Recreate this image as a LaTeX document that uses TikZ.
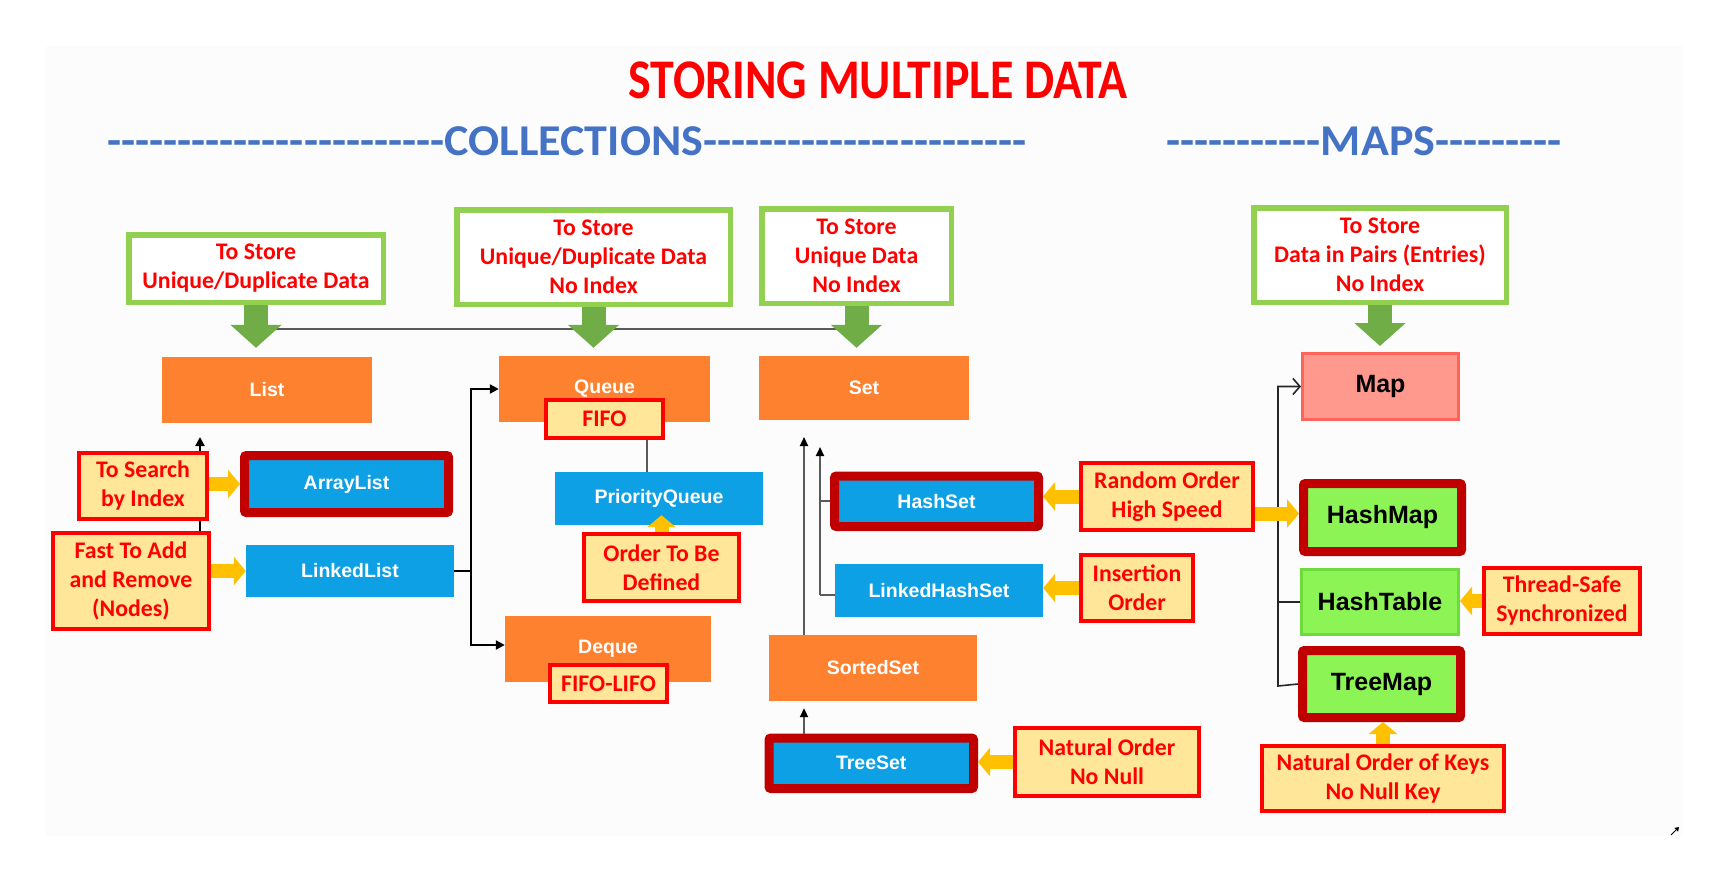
\documentclass[tikz,border=0pt]{standalone}
\usepackage{fontspec}
\setmainfont{Carlito}
\newfontfamily\hdrfont{Carlito}[Ligatures=TeXOff]
\newfontfamily\arialfont{Liberation Sans}
\usetikzlibrary{arrows.meta}

\definecolor{titlered}{RGB}{255,0,0}
\definecolor{hdrblue}{RGB}{68,114,196}
\definecolor{boxgreen}{RGB}{146,208,80}
\definecolor{arrgreen}{RGB}{112,173,71}
\definecolor{ifcorange}{RGB}{253,129,47}
\definecolor{clsblue}{RGB}{14,160,228}
\definecolor{darkred}{RGB}{192,0,0}
\definecolor{notefill}{RGB}{255,230,153}
\definecolor{amber}{RGB}{255,192,0}
\definecolor{mappink}{RGB}{255,153,142}
\definecolor{mapline}{RGB}{255,100,90}
\definecolor{mapgreen}{RGB}{140,245,85}
\definecolor{mapgreenline}{RGB}{110,218,60}
\definecolor{linegray}{RGB}{90,90,90}
\definecolor{panel}{RGB}{252,252,253}

\tikzset{
  title/.style={text=titlered, font=\bfseries\fontsize{56}{62}\selectfont, xscale=.855},
  header/.style={text=hdrblue, font=\hdrfont\bfseries\fontsize{44}{50}\selectfont, xscale=1.045},
  purpose/.style={draw=boxgreen, line width=5.5pt, fill=white, align=center, text=titlered,
    font=\bfseries\fontsize{23.8}{29}\selectfont, inner sep=0pt},
  iface/.style={fill=ifcorange, text=white, font=\arialfont\bfseries\fontsize{19.5}{23}\selectfont, inner sep=0pt},
  impl/.style={fill=clsblue, text=white, font=\arialfont\bfseries\fontsize{19.5}{23}\selectfont, inner sep=0pt},
  picked/.style={draw=darkred, line width=9pt, rounded corners=2pt},
  note/.style={draw=red, fill=notefill, line width=4pt, text=red, align=center,
    font=\bfseries\fontsize{23.8}{29}\selectfont, inner sep=0pt},
  mapnode/.style={font=\arialfont\bfseries\fontsize{25}{28}\selectfont, inner sep=0pt},
  feed/.style={arrgreen, line width=24pt, -{Triangle[width=50pt,length=23pt]}},
  hint/.style={amber, line width=14pt, -{Triangle[width=28pt,length=12pt]}},
  link/.style={line width=2.2pt, -{Triangle[length=9pt,width=9pt]}},
  setlink/.style={linegray, line width=2pt, -{Triangle[length=9pt,width=8pt,color=black]}},
  maplink/.style={black!85, line width=1.6pt}
}

\begin{document}
\begin{tikzpicture}[x=1pt,y=-1pt]
  \useasboundingbox (0,0) rectangle (1735,878);
  \fill[panel] (46,46) rectangle (1683,836);

  \node[title] (title) at (878,80.5) {STORING MULTIPLE DATA};
  \node[header] (colls) at (567,141) {------------------------COLLECTIONS-----------------------};
  \node[header] (maps) at (1364,141) {-----------MAPS---------};

  \foreach \n/\x/\y/\w/\h/\t in {
      g1/256/268.5/254.5/67.5/{To Store\\Unique/Duplicate Data},
      g2/593.5/257/273.5/94.5/{To Store\\Unique/Duplicate Data\\No Index},
      g3/856.5/256/189.5/94.5/{To Store\\Unique Data\\No Index},
      g4/1380/255/252.5/94.5/{To Store\\Data in Pairs (Entries)\\No Index}}
    \node[purpose, minimum width=\w pt, minimum height=\h pt] (\n) at (\x,\y) {\t};

  \foreach \n/\x/\y/\w/\h/\t in {
      list/267/390/210/66/List, queue/604.5/389/211/66/Queue, set/864/388/210/64/Set,
      deque/608/649/206/66/Deque, sortedset/873/668/208/66/SortedSet}
    \node[iface, minimum width=\w pt, minimum height=\h pt] (\n) at (\x,\y) {\t};

  \foreach \n/\x/\y/\w/\h/\t in {
      linkedlist/350/571/208/52/LinkedList, pq/659/498.5/208/53/PriorityQueue,
      lhs/939/590.5/208/53/LinkedHashSet}
    \node[impl, minimum width=\w pt, minimum height=\h pt] (\n) at (\x,\y) {\t};
  \foreach \n/\x/\y/\w/\h/\t in {
      arraylist/346.5/484/204/57/ArrayList, hashset/936.5/501.25/204/50.5/HashSet,
      treeset/871.25/763.25/204.5/50.5/TreeSet}
    \node[impl, picked, minimum width=\w pt, minimum height=\h pt] (\n) at (\x,\y) {\t};

  \node[mapnode, fill=mappink, draw=mapline, line width=3pt, minimum width=156pt, minimum height=66pt] (map) at (1380.5,386.5) {Map};
  \node[mapnode, fill=mapgreen, picked, minimum width=158pt, minimum height=68pt] (hashmap) at (1382.5,517.5) {HashMap};
  \node[mapnode, fill=mapgreen, draw=mapgreenline, line width=3pt, minimum width=157pt, minimum height=65pt] (hashtable) at (1380,602) {HashTable};
  \node[mapnode, fill=mapgreen, picked, minimum width=158pt, minimum height=67pt] (treemap) at (1381.5,684) {TreeMap};

  % connectors
  \coordinate (bus) at (0,329);
  \draw[linegray, line width=2pt] (g1.south |- bus) -- (g3.south |- bus);
  \draw[feed, shorten >=9pt] (g1.south) -- (g1.south |- list.north);
  \draw[feed, shorten >=8pt] (g2.south) -- (g2.south |- queue.north);
  \draw[feed, shorten >=8pt] (g3.south) -- (g3.south |- set.north);
  \draw[feed, shorten >=6pt] (g4.south) -- (g4.south |- map.north);

  \coordinate (lstub) at (200,531);
  \coordinate (ltip) at (200,437);
  \draw[link] (lstub) -- (ltip);
  \coordinate (qsplit) at (471,571);
  \draw[line width=2.2pt] (linkedlist.east) -- (qsplit);
  \draw[link] (qsplit) |- (queue.west);
  \draw[link] (qsplit) |- ([yshift=4pt]deque.west);

  \coordinate (sstip) at (804,437);
  \coordinate (hstip) at (820,447);
  \draw[setlink] (sortedset.north -| sstip) -- (sstip);
  \draw[setlink] ([yshift=-4.5pt]lhs.west -| hstip) -- (hstip);
  \draw[linegray, line width=2pt] (hashset.west -| hstip) -- (hashset.west);
  \draw[linegray, line width=2pt] ([yshift=-4.5pt]lhs.west -| hstip) -- ([yshift=-4.5pt]lhs.west);
  \draw[setlink] (treeset.north -| sstip) -- ([yshift=-7pt]sortedset.south -| sstip);

  \coordinate (mtrunk) at (1278,686);
  \draw[maplink, -{Straight Barb[length=7pt,width=16pt]}] (treemap.west) -- (mtrunk) |- (map.west);
  \draw[maplink] (hashtable.west) -- (hashtable.west -| mtrunk);

  \foreach \n/\x/\y/\w/\h/\t in {
      search/143/486/128/66/{To Search\\by Index},
      fastadd/131/581/156/96/{Fast To Add\\and Remove\\(Nodes)},
      fifo/604.5/419/117/38/FIFO,
      orderdef/661.5/567.5/155/67/{Order To Be\\Defined},
      fifolifo/608.5/683.5/117/37/FIFO-LIFO,
      random/1167/496.5/172/67/{Random Order\\High Speed},
      insertion/1137/588/112/66/{Insertion\\Order},
      natorder/1107/762/184/68/{Natural Order\\No Null},
      threadsafe/1562/601/156/66/{Thread-Safe\\Synchronized},
      natkeys/1383/778.5/242/65/{Natural Order of Keys\\No Null Key}}
    \node[note, minimum width=\w pt, minimum height=\h pt] (\n) at (\x,\y) {\t};

  \draw[linegray, line width=2pt] ([xshift=42pt]fifo.south) -- ([xshift=42pt]fifo.south |- pq.north);

  % yellow hints
  \draw[hint] (search.east |- arraylist.west) -- (arraylist.west);
  \draw[hint] (fastadd.east |- linkedlist.west) -- (linkedlist.west);
  \coordinate (pqin) at ([yshift=10pt]orderdef.north |- pq.south);
  \draw[hint] (orderdef.north) -- (pqin);
  \draw[hint] (random.west) -- (random.west -| hashset.east);
  \draw[hint] (insertion.west) -- (insertion.west -| lhs.east);
  \draw[hint] (natorder.west) -- (natorder.west -| treeset.east);
  \draw[hint] ([yshift=-17pt]random.east) -- ([yshift=-17pt]random.east -| hashmap.west);
  \draw[hint] (threadsafe.west) -- (threadsafe.west -| hashtable.east);
  \draw[hint] (natkeys.north) -- (natkeys.north |- treemap.south);

  \coordinate (cornera) at (1671,835);
  \coordinate (cornerb) at (1679,827);
  \draw[line width=1pt, -{Triangle[length=4pt,width=5pt]}] (cornera) -- (cornerb);
\end{tikzpicture}
\end{document}
